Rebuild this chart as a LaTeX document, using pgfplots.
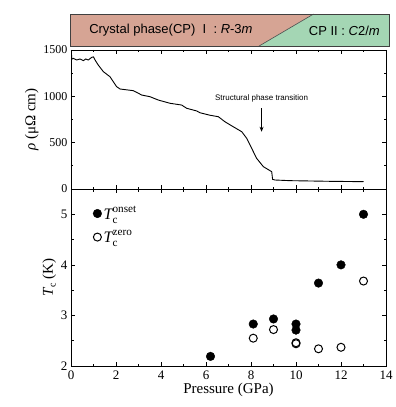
\documentclass[border=0pt]{standalone}
\usepackage{fontspec}
\setmainfont{Liberation Serif}
\newfontfamily\arial{Liberation Sans}
\usepackage{pgfplots}
\pgfplotsset{compat=1.18}
\usetikzlibrary{arrows.meta}
\definecolor{pinkcp}{RGB}{214,164,148}
\definecolor{greencp}{RGB}{164,214,180}
\begin{document}
\begin{tikzpicture}
\pgfplotsset{
  every axis/.append style={
    scale only axis, width=315pt, xmin=0, xmax=14,
    axis line style={line width=0.9pt}, tick style={line width=0.7pt, black},
    tick align=inside, major tick length=4pt, minor tick length=2.5pt,
    xtick={0,2,...,14}, minor x tick num=1,
    /pgf/number format/1000 sep={},
    /pgf/number format/assume math mode=true,
  }
}
\begin{axis}[name=lower, at={(0,0)}, anchor=south west,
  height=177pt, ymin=2, ymax=5.5, ytick={2,3,4,5}, minor y tick num=1,
  ticklabel style={font=\rmfamily\fontsize{13}{14}\selectfont},
  xticklabel style={yshift=-1pt},
  xlabel={Pressure (GPa)}, xlabel style={font=\fontsize{15}{16}\selectfont, yshift=3pt},
  ylabel={\textit{T}\raisebox{-0.4ex}{\fontsize{10}{10}\selectfont c} (K)}, ylabel style={font=\fontsize{15}{16}\selectfont, yshift=-2pt},
  legend style={at={(0.06,0.925)}, anchor=north west, draw=none, fill=none, font=\fontsize{16}{17}\selectfont, row sep=6pt},
  legend cell align=left,
]
\addplot[only marks, mark=*, mark size=4.3pt, black] coordinates {
(6.2,2.19) (8.1,2.83) (9,2.93) (10,2.83) (10,2.71) (11,3.64) (12,4.0) (13,5.0)};
\addlegendentry{$\textit{T}_{\mathrm{c}}^{\mathrm{onset}}$}
\addplot[only marks, mark=o, mark size=4.0pt, line width=1pt, black] coordinates {
(8.1,2.55) (9,2.72) (10,2.44) (10,2.46) (11,2.34) (12,2.37) (13,3.68)};
\addlegendentry{$\textit{T}_{\mathrm{c}}^{\mathrm{zero}}$}
\end{axis}
\begin{axis}[name=upper, at={(lower.north west)}, anchor=south west,
  height=139pt, ymin=0, ymax=1500, ytick={0,500,1000,1500}, minor y tick num=1,
  xticklabels={}, clip=false,
  yticklabel style={font=\rmfamily\fontsize{12}{13}\selectfont},
  ylabel={\textit{ρ} (μΩ cm)}, ylabel style={font=\fontsize{15}{16}\selectfont, yshift=-2pt},
]
\addplot[black, line width=0.9pt] coordinates {
(0.02,1482) (0.03,1400) (0.10,1410) (0.25,1392) (0.40,1403) (0.55,1385) (0.65,1403)
(0.77,1392) (0.92,1421) (1.0,1425) (1.07,1392) (1.21,1338) (1.44,1266) (1.73,1212)
(2.03,1104) (2.18,1079) (2.77,1061) (2.92,1043) (3.14,1014) (3.51,996)
(3.88,960) (4.4,925) (4.92,906) (5.14,871) (5.59,842) (5.73,823) (6.18,796)
(6.55,780) (6.84,726) (7.21,672) (7.59,618) (7.81,547) (8.03,439) (8.25,331)
(8.55,241) (8.92,187) (8.96,104) (9.07,97) (9.73,90) (10.5,87) (11.5,83) (12.3,81) (13,79)};
\draw[-{Stealth[length=5pt,width=4pt]}, line width=0.8pt] (axis cs:8.47,871) -- (axis cs:8.47,618);
\node[font=\arial\fontsize{8}{9}\selectfont] at (axis cs:8.47,979) {Structural phase transition};
% banner
\fill[pinkcp] (axis cs:-0.04,1543) -- (axis cs:8.36,1543) -- (axis cs:10.78,1888) -- (axis cs:-0.04,1888) -- cycle;
\fill[greencp] (axis cs:8.36,1543) -- (axis cs:14.13,1543) -- (axis cs:14.13,1888) -- (axis cs:10.78,1888) -- cycle;
\draw[black!70, line width=0.6pt] (axis cs:8.36,1543) -- (axis cs:10.78,1888);
\draw[black!75, line width=0.8pt] (axis cs:-0.04,1543) rectangle (axis cs:14.13,1888);
\node[font=\arial\fontsize{13}{14}\selectfont] at (axis cs:4.44,1712) {Crystal phase(CP)\ \ I\ \ : \textit{R}-3\textit{m}};
\node[font=\arial\fontsize{13}{14}\selectfont] at (axis cs:12.15,1712) {CP II : \textit{C}2/\textit{m}};
\end{axis}
\path (lower.south west) ++(-71pt,366pt) rectangle ++(392pt,-407pt);
\end{tikzpicture}
\end{document}
